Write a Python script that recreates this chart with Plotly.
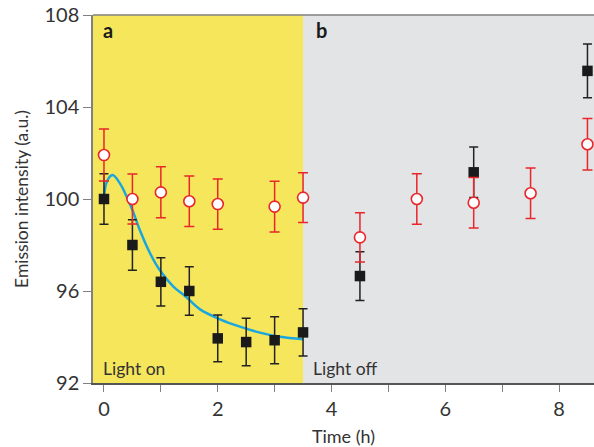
import plotly.graph_objects as go

# Data
time_black = [0, 0.5, 1, 1.5, 2, 2.5, 3, 3.5, 4.5, 6.5, 8.5]
int_black = [100.0, 98.0, 96.4, 96.0, 93.94, 93.78, 93.86, 94.2, 96.65, 101.16, 105.57]
err_black = [1.1, 1.1, 1.05, 1.05, 1.02, 1.03, 1.02, 1.03, 1.06, 1.1, 1.17]

time_red = [0, 0.5, 1, 1.5, 2, 3, 3.5, 4.5, 5.5, 6.5, 7.5, 8.5]
int_red = [101.91, 100.0, 100.29, 99.9, 99.78, 99.67, 100.06, 98.33, 100.0, 99.84, 100.25, 102.38]
err_red = [1.13, 1.09, 1.11, 1.1, 1.09, 1.1, 1.08, 1.07, 1.1, 1.1, 1.1, 1.12]

# Fit curve samples
fit_t = [0.0, 0.05, 0.15, 0.28, 0.40, 0.50, 0.63, 0.81, 0.98, 1.22, 1.45, 1.69, 2.04, 2.39, 2.74, 3.09, 3.5]
fit_y = [100.03, 100.75, 101.04, 100.68, 100.1, 99.52, 98.65, 97.64, 96.91, 96.19, 95.73, 95.2, 94.77, 94.45, 94.19, 94.01, 93.9]

x_ticks = [0, 1, 2, 3, 4, 5, 6, 7, 8]
x_ticktext = ["0", "", "2", "", "4", "", "6", "", "8"]
y_ticks = [92, 96, 100, 104, 108]

light_switch = 3.5
x_min, x_max = -0.193, 8.615

FONT = "Lato"
TXT = "#333333"
AX = "#808080"

fig = go.Figure()

fig.add_trace(go.Scatter(
    x=fit_t, y=fit_y, mode="lines", line=dict(color="#1AA7DF", width=2.5, shape="spline"),
    hoverinfo="skip", showlegend=False))

fig.add_trace(go.Scatter(
    x=time_black, y=int_black, mode="markers",
    marker=dict(symbol="square", size=10.5, color="#1a1a1a"),
    error_y=dict(type="data", array=err_black, color="#222222", thickness=1.5, width=4.5),
    showlegend=False))

fig.add_trace(go.Scatter(
    x=time_red, y=int_red, mode="markers",
    marker=dict(symbol="circle", size=11, color="white", line=dict(color="#E8262B", width=1.6)),
    error_y=dict(type="data", array=err_red, color="#E8262B", thickness=1.5, width=5),
    showlegend=False))

fig.add_shape(type="rect", xref="x", yref="paper", x0=x_min, x1=light_switch, y0=0, y1=1,
              fillcolor="#F6E65C", line=dict(width=0), layer="below")
fig.add_shape(type="rect", xref="x", yref="paper", x0=light_switch, x1=x_max, y0=0, y1=1,
              fillcolor="#E3E4E6", line=dict(width=0), layer="below")

ann_font = dict(family=FONT, size=17.5, color=TXT)
fig.add_annotation(x=-0.05, y=107.35, text="<b>a</b>", showarrow=False, xanchor="left",
                   yanchor="middle", font=dict(family=FONT, size=20, color="#1a1a1a"))
fig.add_annotation(x=3.69, y=107.35, text="<b>b</b>", showarrow=False, xanchor="left",
                   yanchor="middle", font=dict(family=FONT, size=20, color="#1a1a1a"))
fig.add_annotation(x=-0.06, y=92.65, text="Light on", showarrow=False, xanchor="left",
                   yanchor="middle", font=ann_font)
fig.add_annotation(x=3.64, y=92.65, text="Light off", showarrow=False, xanchor="left",
                   yanchor="middle", font=ann_font)

fig.update_layout(
    width=594, height=447,
    margin=dict(l=93, r=0, t=15, b=64),
    paper_bgcolor="white", plot_bgcolor="#E3E4E6",
    font=dict(family=FONT, color=TXT),
    xaxis=dict(range=[x_min, x_max], tickvals=x_ticks, ticktext=x_ticktext,
               ticks="outside", ticklen=7, tickwidth=1.2, tickcolor=AX,
               showline=True, linecolor="#555555", linewidth=1.5, mirror=False,
               showgrid=False, zeroline=False,
               tickfont=dict(family=FONT, size=20, color=TXT),
               title=dict(text="Time (h)", font=dict(family=FONT, size=18, color=TXT), standoff=12)),
    yaxis=dict(range=[92, 108], tickvals=y_ticks,
               ticks="outside", ticklen=8, tickwidth=1.2, tickcolor=AX,
               showline=True, linecolor=AX, linewidth=1.5,
               showgrid=False, zeroline=False,
               tickfont=dict(family=FONT, size=20, color=TXT),
               title=dict(text="Emission intensity (a.u.)", font=dict(family=FONT, size=17.5, color=TXT), standoff=11)),
)
fig.add_shape(type="line", xref="paper", yref="paper", x0=0, x1=1, y0=1, y1=1,
              line=dict(color=AX, width=1.5))

fig.write_html("out.html")
